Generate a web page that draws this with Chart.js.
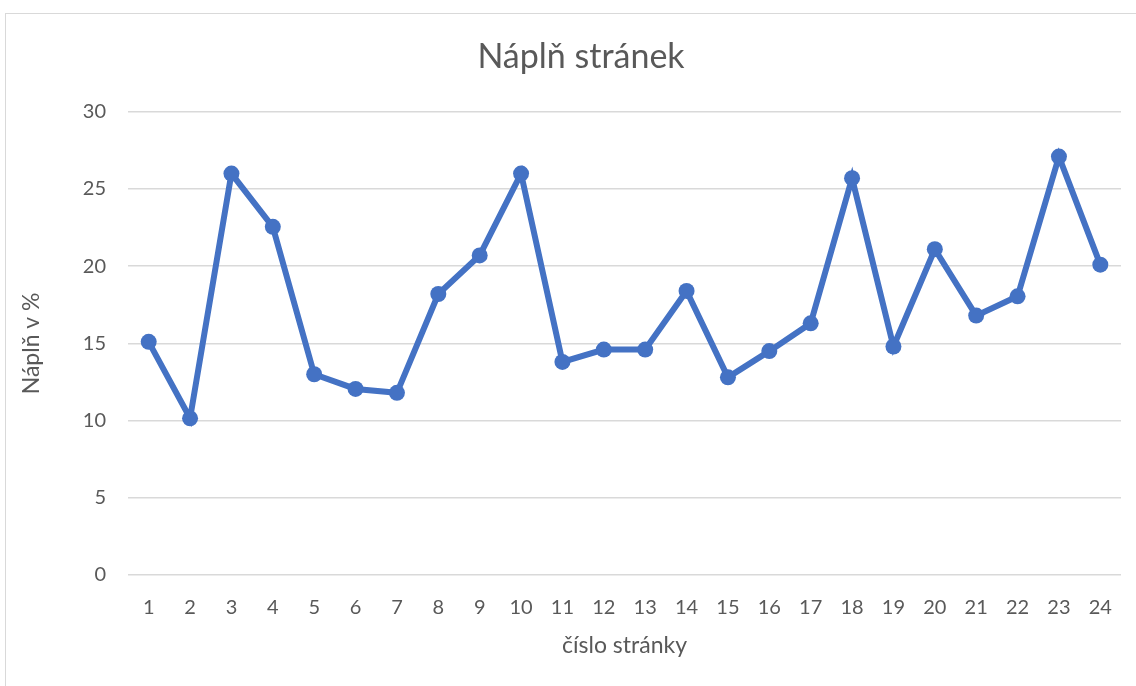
<!DOCTYPE html>
<html>
<head>
<meta charset="utf-8">
<script src="https://cdn.jsdelivr.net/npm/chart.js@4"></script>
<style>
  html, body { margin:0; padding:0; background:#fff; }
  #wrap { position:relative; width:1136px; height:686px; }
  #frame { position:absolute; left:5px; top:13px; width:1140px; height:690px; border:1px solid #d9d9d9; box-sizing:border-box; }
  canvas { position:absolute; left:0; top:0; }
</style>
</head>
<body>
<div id="wrap">
  <div id="frame"></div>
  <canvas id="c" width="1136" height="686"></canvas>
</div>
<script>
const categories = ["1","2","3","4","5","6","7","8","9","10","11","12","13","14","15","16","17","18","19","20","21","22","23","24"];
const naplnValues = [15.1, 10.15, 26.0, 22.55, 13.0, 12.05, 11.8, 18.2, 20.7, 26.0, 13.8, 14.6, 14.6, 18.4, 12.8, 14.5, 16.3, 25.7, 14.8, 21.1, 16.8, 18.05, 27.1, 20.1];
const yTicks = [0, 5, 10, 15, 20, 25, 30];

const textColor = '#595959';
const fontFamily = 'Lato, "Liberation Sans", sans-serif';
const LEFT_PAD = 41;

new Chart(document.getElementById('c'), {
  type: 'line',
  data: {
    labels: categories,
    datasets: [{
      label: 'Náplň v %',
      data: naplnValues,
      borderColor: '#4472C4',
      backgroundColor: '#4472C4',
      borderWidth: 6,
      pointRadius: 8,
      pointHoverRadius: 8,
      pointBackgroundColor: '#4472C4',
      pointBorderWidth: 0,
      tension: 0,
      fill: false
    }]
  },
  options: {
    responsive: false,
    animation: false,
    devicePixelRatio: 1,
    layout: { padding: { left: LEFT_PAD, right: 15, top: 0, bottom: 0 } },
    plugins: {
      legend: { display: false },
      tooltip: { enabled: false },
      title: {
        display: true,
        text: 'Náplň stránek',
        color: textColor,
        font: { family: fontFamily, size: 34, weight: 'normal' },
        padding: { top: 37, bottom: 34 }
      }
    },
    scales: {
      x: {
        offset: true,
        grid: { display: false, drawTicks: false },
        border: { display: false },
        ticks: { color: textColor, font: { family: fontFamily, size: 20 }, padding: 21, maxRotation: 0, autoSkip: false },
        title: {
          display: true,
          text: 'číslo stránky',
          color: textColor,
          font: { family: fontFamily, size: 23 },
          padding: { top: 0, bottom: 27 }
        },
        afterFit: (s) => { s.height = 111; }
      },
      y: {
        min: 0,
        max: 30,
        afterBuildTicks: (s) => { s.ticks = yTicks.map(v => ({ value: v })); },
        grid: { color: '#d9d9d9', lineWidth: 1.5, drawTicks: false },
        border: { display: false },
        ticks: { color: textColor, font: { family: fontFamily, size: 20 }, padding: 22 },
        title: {
          display: true,
          text: 'Náplň v %',
          color: textColor,
          font: { family: fontFamily, size: 23 },
          padding: { top: 32 - LEFT_PAD - 13.8, bottom: 0 }
        },
        afterFit: (s) => { s.width = 128 - LEFT_PAD; }
      }
    }
  }
});
</script>
</body>
</html>
